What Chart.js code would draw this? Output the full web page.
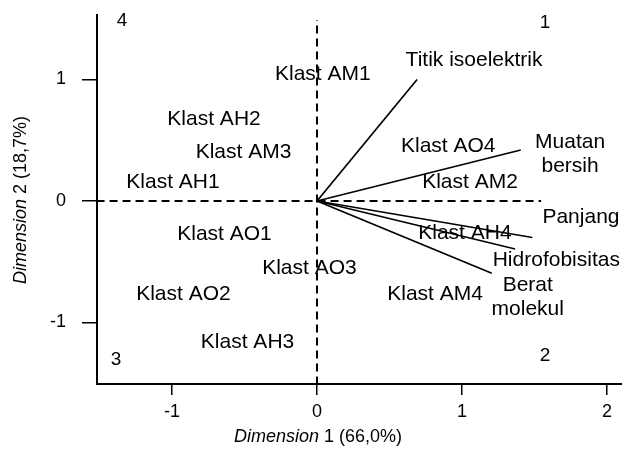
<!DOCTYPE html>
<html>
<head>
<meta charset="utf-8">
<script src="https://cdn.jsdelivr.net/npm/chart.js@4.4.1/dist/chart.umd.min.js"></script>
<style>
  html, body { margin: 0; padding: 0; background: #fff; }
  #wrap { width: 622px; height: 450px; }
</style>
</head>
<body>
<div id="wrap"><canvas id="biplot" width="622" height="450"></canvas></div>
<script>
// variable vectors (loadings)
const varNames = ["Titik isoelektrik", "Muatan bersih", "Panjang", "Hidrofobisitas", "Berat molekul"];
const varX = [0.69, 1.405, 1.485, 1.366, 1.205];
const varY = [1.00, 0.42, -0.30, -0.395, -0.595];
// where the variable names sit
const varLabelX = [1.083, 1.745, 1.82, 1.65, 1.453];
const varLabelY = [1.16, 0.387, -0.13, -0.486, -0.794];
const varLabelLines = [["Titik isoelektrik"], ["Muatan", "bersih"], ["Panjang"], ["Hidrofobisitas"], ["Berat", "molekul"]];

// cluster scores
const klastNames = ["Klast AM1", "Klast AH2", "Klast AM3", "Klast AH1", "Klast AO4", "Klast AM2",
                    "Klast AH4", "Klast AO1", "Klast AO3", "Klast AO2", "Klast AM4", "Klast AH3"];
const klastX = [0.04, -0.71, -0.507, -0.993, 0.905, 1.055, 1.02, -0.638, -0.052, -0.921, 0.814, -0.479];
const klastY = [1.04, 0.675, 0.403, 0.156, 0.453, 0.156, -0.263, -0.272, -0.551, -0.765, -0.765, -1.158];

// quadrant numbers
const quadNames = ["4", "1", "3", "2"];
const quadX = [-1.345, 1.572, -1.386, 1.572];
const quadY = [1.48, 1.47, -1.31, -1.27];

const xTicks = [-1, 0, 1, 2];
const yTicks = [-1, 0, 1];
const xTitle = ["Dimension", " 1 (66,0%)"];
const yTitle = ["Dimension", " 2 (18,7%)"];

const FONT = "'Liberation Sans', Arial, sans-serif";

const datasets = [];
// dashed reference lines through origin
datasets.push({ data: [{ x: -1.52, y: 0 }, { x: 1.545, y: 0 }], showLine: true, borderColor: "#000",
  borderWidth: 2, borderDash: [8, 5], pointRadius: 0 });
datasets.push({ data: [{ x: 0, y: -1.51 }, { x: 0, y: 1.49 }], showLine: true, borderColor: "#000",
  borderWidth: 2, borderDash: [8, 5], pointRadius: 0 });
varX.forEach((vx, i) => {
    datasets.push({ data: [{ x: 0, y: 0 }, { x: vx, y: varY[i] }], showLine: true, borderColor: "#000",
      borderWidth: 1.7, pointRadius: 0 });
});

const labelPlugin = {
    id: "labels",
    afterDatasetsDraw(chart) {
        const ctx = chart.ctx;
        const xs = chart.scales.x, ys = chart.scales.y;
        ctx.save();
        ctx.fillStyle = "#000";
        ctx.textAlign = "center";
        ctx.textBaseline = "middle";
        ctx.font = "21px " + FONT;
        klastNames.forEach((name, i) => {
            ctx.fillText(name, xs.getPixelForValue(klastX[i]), ys.getPixelForValue(klastY[i]));
        });
        varLabelLines.forEach((lines, i) => {
            const cx = xs.getPixelForValue(varLabelX[i]);
            const cy = ys.getPixelForValue(varLabelY[i]);
            const lh = 24;
            lines.forEach((ln, j) => {
                ctx.fillText(ln, cx, cy + (j - (lines.length - 1) / 2) * lh);
            });
        });
        ctx.font = "19px " + FONT;
        quadNames.forEach((q, i) => {
            ctx.fillText(q, xs.getPixelForValue(quadX[i]), ys.getPixelForValue(quadY[i]));
        });
        ctx.restore();
    },
    afterDraw(chart) {
        const ctx = chart.ctx;
        ctx.save();
        ctx.fillStyle = "#000";
        ctx.textBaseline = "middle";
        ctx.textAlign = "left";
        const drawTitle = (parts, cx, cy, rot) => {
            ctx.save();
            ctx.translate(cx, cy);
            ctx.rotate(rot);
            ctx.font = "italic 18px " + FONT;
            const w1 = ctx.measureText(parts[0]).width;
            ctx.font = "18px " + FONT;
            const w2 = ctx.measureText(parts[1]).width;
            let x0 = -(w1 + w2) / 2;
            ctx.font = "italic 18px " + FONT;
            ctx.fillText(parts[0], x0, 0);
            ctx.font = "18px " + FONT;
            ctx.fillText(parts[1], x0 + w1, 0);
            ctx.restore();
        };
        drawTitle(xTitle, 318, 437, 0);
        drawTitle(yTitle, 21, 200, -Math.PI / 2);
        ctx.restore();
    }
};

new Chart(document.getElementById("biplot").getContext("2d"), {
    type: "scatter",
    data: { datasets: datasets },
    plugins: [labelPlugin],
    options: {
        responsive: false,
        animation: false,
        devicePixelRatio: 1,
        layout: { padding: { top: 15, right: 0, left: 0, bottom: 0 } },
        plugins: { legend: { display: false }, tooltip: { enabled: false } },
        scales: {
            x: {
                type: "linear", position: "bottom", min: -1.517, max: 2.103,
                afterBuildTicks: (s) => { s.ticks = xTicks.map(v => ({ value: v })); },
                afterFit: (s) => { s.height = 66; s.paddingLeft = 0; s.paddingRight = 0; },
                grid: { drawOnChartArea: false, drawTicks: true, tickLength: 11, color: "#000", lineWidth: 1.5 },
                border: { display: true, color: "#000", width: 2 },
                ticks: { color: "#000", font: { size: 18, family: FONT }, padding: 6 }
            },
            y: {
                type: "linear", position: "left", min: -1.506, max: 1.531,
                afterBuildTicks: (s) => { s.ticks = yTicks.map(v => ({ value: v })); },
                afterFit: (s) => { s.width = 97; s.paddingTop = 0; s.paddingBottom = 0; },
                grid: { drawOnChartArea: false, drawTicks: true, tickLength: 15, color: "#000", lineWidth: 1.5 },
                border: { display: true, color: "#000", width: 2 },
                ticks: { color: "#000", font: { size: 18, family: FONT }, padding: 16 }
            }
        }
    }
});
</script>
</body>
</html>
